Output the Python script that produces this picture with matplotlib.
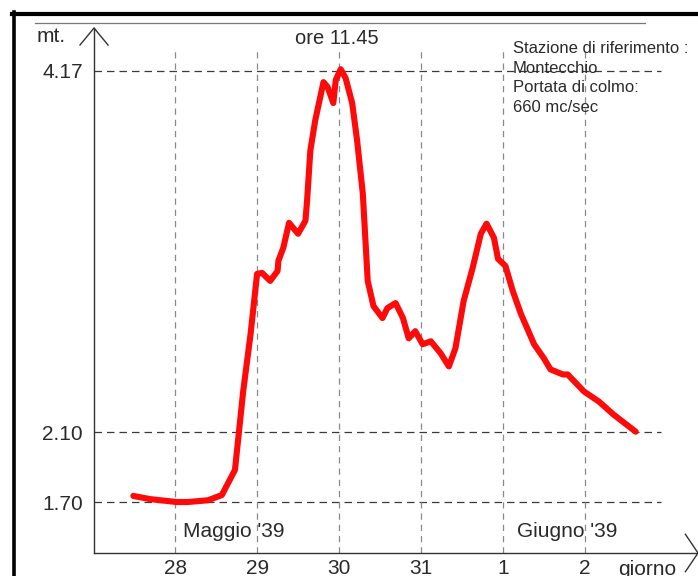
import matplotlib
matplotlib.use("Agg")
import matplotlib.pyplot as plt
from matplotlib.lines import Line2D

# ======================================
# DATA (hydrograph, Montecchio, May-June 1939)
# ======================================

# time in days from 28 May 00:00
giorni = [
    -0.51, -0.31, 0.02, 0.15, 0.40, 0.57, 0.73, 0.77, 0.83, 0.92,
    1.00, 1.06, 1.16, 1.25, 1.26, 1.32, 1.39, 1.50, 1.59, 1.61,
    1.65, 1.71, 1.81, 1.86, 1.93, 1.96, 2.02, 2.08, 2.16, 2.22,
    2.29, 2.35, 2.42, 2.53, 2.59, 2.69, 2.78, 2.85, 2.93, 3.02,
    3.12, 3.24, 3.34, 3.42, 3.52, 3.63, 3.73, 3.80, 3.89, 3.94,
    4.03, 4.12, 4.22, 4.38, 4.50, 4.58, 4.73, 4.79, 4.99, 5.17,
    5.35, 5.62,
]

# water level in metres
livello = [
    1.735, 1.717, 1.700, 1.700, 1.710, 1.740, 1.884, 2.063, 2.333, 2.661,
    3.007, 3.013, 2.967, 3.024, 3.082, 3.157, 3.300, 3.237, 3.312, 3.427,
    3.715, 3.888, 4.106, 4.078, 3.986, 4.118, 4.180, 4.129, 3.986, 3.773,
    3.467, 2.967, 2.823, 2.754, 2.811, 2.840, 2.754, 2.638, 2.679, 2.604,
    2.621, 2.552, 2.477, 2.581, 2.851, 3.041, 3.237, 3.295, 3.214, 3.093,
    3.053, 2.909, 2.777, 2.604, 2.523, 2.460, 2.431, 2.431, 2.333, 2.276,
    2.201, 2.103,
]

giorni_tick = [0, 1, 2, 3, 4, 5]
giorni_label = ["28", "29", "30", "31", "1", "2"]

livelli_rif = [1.70, 2.10, 4.17]
livelli_label = ["1.70", "2.10", "4.17"]

# ======================================
# FIGURE
# ======================================

W, H = 698, 576
plt.rcParams["font.family"] = ["Liberation Sans", "DejaVu Sans"]
text_col = "#2a2a2a"

fig = plt.figure(figsize=(W / 100, H / 100), dpi=100)
fig.patch.set_facecolor("white")


def px(x, y):
    return x / W, 1 - y / H


# axes from y-axis (x=94) to right edge, x-axis (y=553) to arrow tip (y=28)
ax = fig.add_axes([94 / W, 1 - 553 / H, (698 - 94) / W, (553 - 28) / H])
ax.set_xlim(-0.99, 6.38)
ax.set_ylim(1.408, 4.416)
ax.patch.set_alpha(0)

for s in ["top", "right"]:
    ax.spines[s].set_visible(False)
for s in ["left", "bottom"]:
    ax.spines[s].set_color("#333333")
    ax.spines[s].set_linewidth(1.0)

# dashed reference lines
ax.hlines(livelli_rif, -0.99, 5.93, colors="#3a3a3a", linewidth=0.9,
          linestyles=(0, (6, 4)), zorder=1)
ax.vlines(giorni_tick, 1.408, 4.29, colors="#8a8a8a", linewidth=0.9,
          linestyles=(0, (5, 4)), zorder=1)

# flood curve
ax.plot(giorni, livello, color="#ff0a0a", linewidth=4.4,
        solid_joinstyle="round", solid_capstyle="round", zorder=3)

# ticks
ax.set_xticks(giorni_tick)
ax.set_xticklabels(giorni_label, fontsize=15, color=text_col)
ax.set_yticks(livelli_rif)
ax.set_yticklabels(livelli_label, fontsize=15, color=text_col)
ax.tick_params(axis="x", length=0, pad=4)
ax.tick_params(axis="y", length=0, pad=8)

# axis arrows (open V)
dx, dy = 14 / 604, 17 / 525
ax.plot([-dx, 0, dx], [1 - dy, 1, 1 - dy], color="#333333", linewidth=1.0,
        transform=ax.transAxes, clip_on=False)
ax.plot([1 - dx * 0.9, 1, 1 - dx * 0.9], [dy * 1.1, 0, -dy * 1.1],
        color="#333333", linewidth=1.0, transform=ax.transAxes, clip_on=False)

# ======================================
# TEXTS
# ======================================

fig.text(*px(37, 42), "mt.", fontsize=15, color=text_col, va="baseline")
fig.text(*px(337, 44), "ore 11.45", fontsize=14.5, color=text_col,
         ha="center", va="baseline")

note = ["Stazione di riferimento :", "Montecchio", "Portata di colmo:",
        "660 mc/sec"]
for i, line in enumerate(note):
    fig.text(*px(513, 53 + i * 19.7), line, fontsize=12, color=text_col,
             va="baseline")

fig.text(*px(183, 537), "Maggio '39", fontsize=15, color=text_col,
         va="baseline")
fig.text(*px(517, 537), "Giugno '39", fontsize=15, color=text_col,
         va="baseline")
fig.text(*px(618, 575), "giorno", fontsize=15, color=text_col,
         va="baseline")

# ======================================
# SCAN FRAME
# ======================================

fig.add_artist(Line2D([12 / W, 1], [1 - 14 / H, 1 - 14 / H],
                      color="black", linewidth=3.0))
fig.add_artist(Line2D([13.5 / W, 13.5 / W], [0, 1 - 12 / H],
                      color="black", linewidth=2.6))
fig.add_artist(Line2D([35 / W, 645 / W], [1 - 23 / H, 1 - 23 / H],
                      color="#777777", linewidth=0.9))

fig.savefig("out.png", dpi=100)
